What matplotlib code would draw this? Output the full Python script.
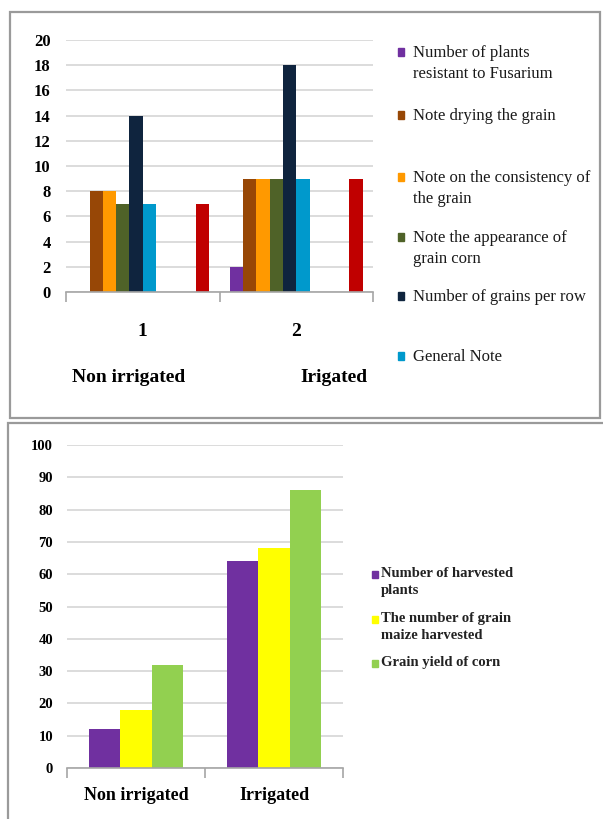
import numpy as np
import matplotlib
matplotlib.use("Agg")
import matplotlib.pyplot as plt
from matplotlib.patches import Rectangle

plt.rcParams['font.family'] = ['Liberation Serif', 'DejaVu Serif']

W, H = 603, 819

# top chart data (10 series, three of them empty in the source)
top_groups = ["1", "2"]
top_names = ["Non irrigated", "Irigated"]
top_labels = ["Number of plants\nresistant to Fusarium", "Note drying the grain",
              "Note on the consistency of\nthe grain", "Note the appearance of\ngrain corn",
              "Number of grains per row", "General Note", None, None, None, None]
top_colors = ["#7030A0", "#974706", "#FF9900", "#4F6228", "#0F243E", "#0099CC",
              "#FFFFFF", "#FFFFFF", "#FFFFFF", "#C00000"]
top_values = [
    [0, 2],    # plants resistant to Fusarium
    [8, 9],    # drying the grain
    [8, 9],    # consistency
    [7, 9],    # appearance
    [14, 18],  # grains per row
    [7, 9],    # general note
    [0, 0],
    [0, 0],
    [0, 0],
    [7, 9],
]

# bottom chart data
bot_groups = ["Non irrigated", "Irrigated"]
bot_labels = ["Number of harvested\nplants", "The number of grain\nmaize harvested",
              "Grain yield of corn"]
bot_colors = ["#7030A0", "#FFFF00", "#92D050"]
bot_values = [
    [12, 64],
    [18, 68],
    [32, 86],
]


def px_axes(fig, x0, y0, x1, y1):
    # pixel box (top-left origin) -> figure axes
    return fig.add_axes([x0 / W, 1 - y1 / H, (x1 - x0) / W, (y1 - y0) / H])


def style_axes(ax, ymax, ystep, label_pad, ytick_pad):
    ax.set_xlim(0, 2)
    ax.set_ylim(0, ymax)
    ax.set_yticks(np.arange(0, ymax + 1, ystep))
    ax.yaxis.grid(True, color="#D9D9D9", linewidth=1.3)
    ax.set_axisbelow(True)
    for s in ["top", "right", "left"]:
        ax.spines[s].set_visible(False)
    ax.spines["bottom"].set_color("#A6A6A6")
    ax.spines["bottom"].set_linewidth(1.2)
    ax.set_xticks([0, 1, 2])
    ax.set_xticklabels([])
    ax.tick_params(axis="x", which="major", length=7, color="#A6A6A6", width=1.2)
    ax.tick_params(axis="y", length=0, pad=ytick_pad, labelsize=12)
    for t in ax.get_yticklabels():
        t.set_fontweight("bold")
    ax.set_xticks([0.5, 1.5], minor=True)
    ax.tick_params(axis="x", which="minor", length=0, pad=label_pad)


fig = plt.figure(figsize=(W / 100, H / 100), dpi=100)

# panel frames
fig.patches.append(Rectangle((10 / W, 1 - 418 / H), 590 / W, 406 / H, transform=fig.transFigure,
                             fill=False, edgecolor="#9A9A9A", linewidth=1.6))
fig.patches.append(Rectangle((8 / W, 1 - 830 / H), 610 / W, 407 / H, transform=fig.transFigure,
                             fill=False, edgecolor="#9A9A9A", linewidth=1.6))

# ---- top chart ----
ax1 = px_axes(fig, 66, 40, 373, 292)
n = len(top_values)
bw = 0.865 / n
x = np.array([0.5, 1.5])
for i, vals in enumerate(top_values):
    ax1.bar(x - 0.865 / 2 + bw * (i + 0.5), vals, width=bw, color=top_colors[i])
style_axes(ax1, 20, 2, 22, 11)
ax1.set_xticklabels(top_groups, minor=True, fontsize=14, fontweight="bold")

fig.text(72 / W, 1 - 378 / H, top_names[0], fontsize=14, fontweight="bold", va="center", ha="left")
fig.text(368 / W, 1 - 378 / H, top_names[1], fontsize=14, fontweight="bold", va="center", ha="right")

ys = [52, 115, 177, 237, 296, 356]
for i, y in enumerate(ys):
    fig.patches.append(Rectangle((398 / W, 1 - (y + 4) / H), 6 / W, 8 / H, transform=fig.transFigure,
                                 color=top_colors[i]))
    fig.text(413 / W, 1 - (y - 7) / H, top_labels[i], fontsize=12, va="top", ha="left",
             linespacing=1.45, color="#1a1a1a")

# ---- bottom chart ----
ax2 = px_axes(fig, 67, 445, 343, 768)
m = len(bot_values)
bw2 = 0.675 / m
for i, vals in enumerate(bot_values):
    ax2.bar(x - 0.675 / 2 + bw2 * (i + 0.5), vals, width=bw2, color=bot_colors[i])
style_axes(ax2, 100, 10, 14, 10)
ax2.tick_params(axis="y", labelsize=10.5)
ax2.set_xticklabels(bot_groups, minor=True, fontsize=13, fontweight="bold")

ys2 = [574, 619, 663]
for i, y in enumerate(ys2):
    fig.patches.append(Rectangle((372 / W, 1 - (y + 4) / H), 6 / W, 7 / H, transform=fig.transFigure,
                                 color=bot_colors[i]))
    fig.text(381 / W, 1 - (y - 7) / H, bot_labels[i], fontsize=10.5, va="top", ha="left",
             linespacing=1.4, fontweight="bold", color="#222222")

fig.savefig("out.png", dpi=100)
